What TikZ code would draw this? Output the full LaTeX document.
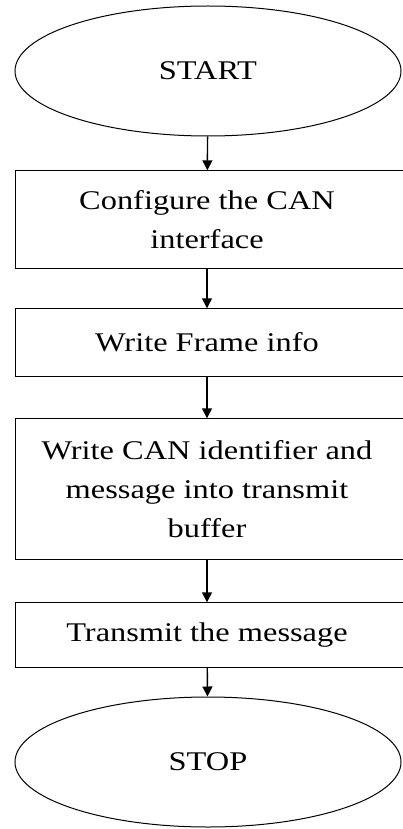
\documentclass[tikz,border=0pt]{standalone}
\usepackage{fontspec}
\setmainfont{Liberation Serif}[FakeStretch=1.2]
\usetikzlibrary{shapes.geometric,arrows.meta}
\begin{document}
\begin{tikzpicture}[x=1pt,y=-1pt,
  line width=1.4pt,
  term/.style={ellipse,draw,line width=1pt,minimum width=386pt,minimum height=130pt,inner sep=0pt,font=\fontsize{27}{30}\selectfont},
  proc/.style={draw=none,minimum width=382pt,inner sep=0pt,align=center,font=\fontsize{27}{39}\selectfont},
  flow/.style={-{Triangle[length=10pt,width=10pt]},line width=1.4pt}]
\useasboundingbox (0,0) rectangle (403,829);
\clip (0,0) rectangle (403,829);
\node[term] (start) at (208,71) {START};
\node[proc,minimum height=97pt] (b1) at (207,219.5) {Configure the CAN\\interface};
\node[proc,minimum height=67pt] (b2) at (207,342.5) {Write Frame info};
\node[proc,minimum height=140pt] (b3) at (207,489) {Write CAN identifier and\\message into transmit\\buffer};
\node[proc,minimum height=64pt] (b4) at (207,635) {Transmit the message};
\node[term] (stop) at (208,762) {STOP};
\foreach \b in {b1,b2,b3,b4}{
  \draw (\b.north west) rectangle ([xshift=30pt]\b.south east);
}
\draw[flow] (start) -- (b1);
\draw[flow] (b1) -- (b2);
\draw[flow] (b2) -- (b3);
\draw[flow] (b3) -- (b4);
\draw[flow] (b4) -- (stop);
\end{tikzpicture}
\end{document}
